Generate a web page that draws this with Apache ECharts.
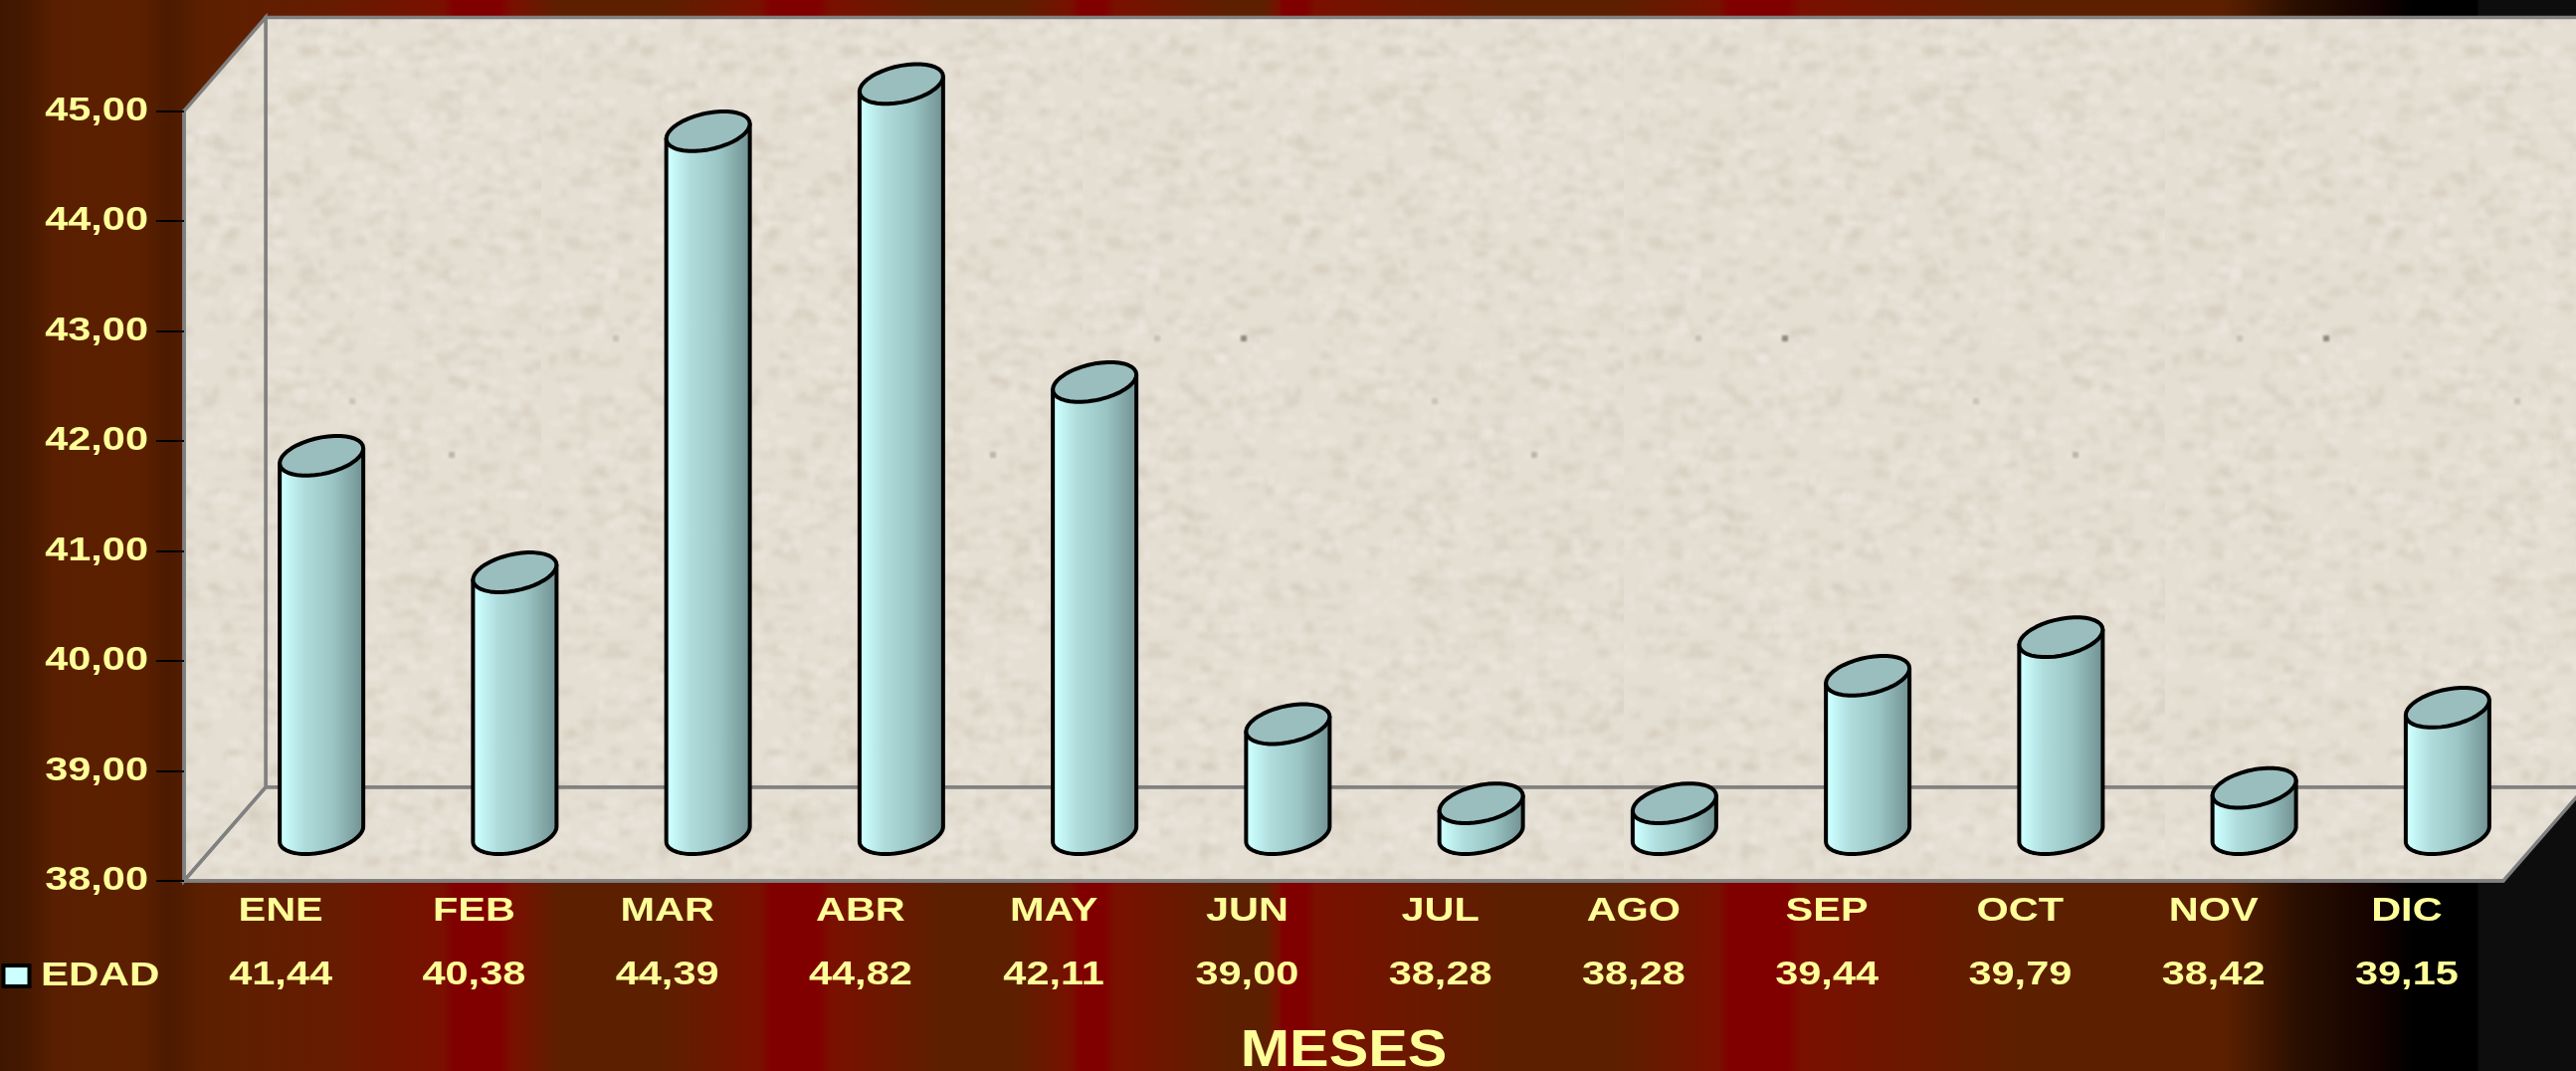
<!DOCTYPE html>
<html>
<head>
<meta charset="utf-8">
<style>
html, body { margin: 0; padding: 0; background: #000; overflow: hidden; }
#main { width: 2589px; height: 1076px; }
</style>
<script src="https://cdn.jsdelivr.net/npm/echarts@6/dist/echarts.min.js"></script>
</head>
<body>
<div id="main"></div>
<script>
var meses = ['ENE', 'FEB', 'MAR', 'ABR', 'MAY', 'JUN', 'JUL', 'AGO', 'SEP', 'OCT', 'NOV', 'DIC'];
var edad = [41.44, 40.38, 44.39, 44.82, 42.11, 39.00, 38.28, 38.28, 39.44, 39.79, 38.42, 39.15];
var yTicks = [38, 39, 40, 41, 42, 43, 44, 45];
var serieNombre = 'EDAD';
var ejeNombre = 'MESES';

var amarillo = '#ffff99';
var gris = '#808080';
var fuente = '"Liberation Sans", Arial, sans-serif';
// el dibujo original esta estirado a lo ancho
var estirar = 1.22;
// fondo del grafico 3D: profundidad de la caja
var fondoX = 82, fondoY = 94;

function coma(v) {
    return v.toFixed(2).replace('.', ',');
}

// textura del papel de las paredes (se repite cada 544px)
function crearTextura() {
    var c = document.createElement('canvas');
    c.width = 544;
    c.height = 900;
    var ctx = c.getContext('2d');
    ctx.fillStyle = '#e5dfd3';
    ctx.fillRect(0, 0, 544, 900);
    var semilla = 7;
    function sig() {
        semilla = (semilla * 16807) % 2147483647;
        return semilla / 2147483647;
    }
    ctx.filter = 'blur(2px)';
    for (var i = 0; i < 4200; i++) {
        var claro = sig() > 0.5;
        ctx.fillStyle = claro ? 'rgba(240,234,228,0.35)' : 'rgba(205,196,180,0.3)';
        ctx.fillRect(sig() * 544, sig() * 900, 3 + sig() * 14, 2 + sig() * 8);
    }
    ctx.filter = 'blur(1px)';
    var puntos = [[162, 340, 0.6], [75, 340, 0.2], [354, 403, 0.2], [454, 457, 0.3]];
    puntos.forEach(function (p) {
        ctx.fillStyle = 'rgba(90,80,70,' + p[2] + ')';
        ctx.fillRect(p[0] - 3, p[1] - 3, 6, 6);
    });
    return c;
}
var textura = { image: crearTextura(), repeat: 'repeat' };

var chart = echarts.init(document.getElementById('main'));

// caja: pared izquierda, pared del fondo y piso
function dibujarCaja(params, api) {
    var banda = api.size([1, 0])[0];
    var abajo = api.coord([0, yTicks[0]]);
    var arriba = api.coord([0, yTicks[yTicks.length - 1]]);
    var x0 = abajo[0] - banda / 2;
    var x1 = x0 + banda * meses.length;
    var y0 = abajo[1], y1 = arriba[1];
    var xf = x0 + fondoX;
    var borde = { fill: textura, stroke: gris, lineWidth: 3.5, lineJoin: 'miter' };
    return {
        type: 'group',
        children: [
            { type: 'polygon', shape: { points: [[xf, y1 - fondoY], [x1 + fondoX, y1 - fondoY], [x1 + fondoX, y0 - fondoY], [xf, y0 - fondoY]] }, style: borde },
            { type: 'polygon', shape: { points: [[x0, y0], [xf, y0 - fondoY], [xf, y1 - fondoY], [x0, y1]] }, style: borde },
            { type: 'polygon', shape: { points: [[x0, y0], [xf, y0 - fondoY], [x1 + fondoX, y0 - fondoY], [x1, y0]] }, style: borde }
        ]
    };
}

// puntos de la elipse inclinada entre dos angulos
function arco(cx, cy, desde, hasta) {
    var pts = [];
    for (var i = 0; i <= 40; i++) {
        var t = desde + (hasta - desde) * i / 40;
        pts.push([cx + Math.cos(t) * 42, cy - Math.cos(t) * 7.5 + Math.sin(t) * 18.5]);
    }
    return pts;
}

// cilindro de cada mes, parado a media profundidad
function dibujarCilindro(params, api) {
    var i = api.value(0);
    var base = api.coord([i, yTicks[0]]);
    var tope = api.coord([i, api.value(1)]);
    var cx = base[0] + fondoX / 2;
    var yb = base[1] - fondoY / 2;
    var yt = tope[1] - fondoY / 2;
    var cuerpo = arco(cx, yb, Math.PI, 0);
    cuerpo.push([cx + 42, yt - 7.5], [cx - 42, yt + 7.5]);
    return {
        type: 'group',
        children: [{
            type: 'polygon',
            shape: { points: cuerpo },
            style: {
                fill: {
                    type: 'linear', x: 0, y: 0, x2: 1, y2: 0,
                    colorStops: [
                        { offset: 0, color: '#c4f8f8' },
                        { offset: 0.06, color: '#ccffff' },
                        { offset: 0.3, color: '#b0dcdc' },
                        { offset: 0.62, color: '#9cc6c6' },
                        { offset: 1, color: '#6f8e8e' }
                    ]
                },
                stroke: '#000',
                lineWidth: 4,
                lineJoin: 'round'
            }
        }, {
            type: 'polygon',
            shape: { points: arco(cx, yt, 0, Math.PI * 2) },
            style: { fill: '#9abebe', stroke: '#000', lineWidth: 4, lineJoin: 'round' }
        }]
    };
}

function texto(x, y, cadena, tam, alinear, escala) {
    return {
        type: 'text',
        x: x,
        y: y,
        scaleX: escala,
        style: {
            text: cadena,
            fill: amarillo,
            font: 'bold ' + tam + 'px ' + fuente,
            align: alinear,
            verticalAlign: 'middle'
        }
    };
}

// tabla de abajo: mes y valor
function dibujarTabla(params, api) {
    var i = api.value(0);
    var p = api.coord([i, yTicks[0]]);
    return {
        type: 'group',
        children: [
            texto(p[0], p[1] + 31, meses[i], 34, 'center', estirar),
            texto(p[0], p[1] + 95, coma(api.value(1)), 34, 'center', estirar)
        ]
    };
}

// rotulos del eje de valores
function dibujarRotuloY(params, api) {
    var v = api.value(1);
    var p = api.coord([0, v]);
    var banda = api.size([1, 0])[0];
    return texto(p[0] - banda / 2 - 36, p[1], coma(v), 34, 'right', estirar);
}

function dibujarTitulo(params, api) {
    var p = api.coord([0, yTicks[0]]);
    var banda = api.size([1, 0])[0];
    return texto(p[0] - banda / 2 + banda * meses.length / 2, p[1] + 172, ejeNombre, 52, 'center', 1.14);
}

var option = {
    animation: false,
    backgroundColor: {
        type: 'linear', x: 0, y: 0, x2: 1, y2: 0,
        colorStops: [
            [0, '#3f1700'], [25, '#451800'], [55, '#5a1f00'], [140, '#5c2000'], [170, '#4c1a00'], [205, '#5c2000'],
            [330, '#661c00'], [445, '#7a1000'], [456, '#800000'], [502, '#800000'], [515, '#7a1000'], [564, '#5c2000'],
            [663, '#5c2000'], [765, '#7a1000'], [775, '#800000'], [821, '#800000'], [835, '#7a1000'], [950, '#5c2000'],
            [1020, '#5c2000'], [1076, '#781000'], [1086, '#800000'], [1110, '#800000'], [1120, '#7a1000'], [1235, '#5c2000'],
            [1270, '#5c2000'], [1285, '#781000'], [1289, '#800000'], [1312, '#800000'], [1322, '#7a1000'], [1520, '#5c2000'],
            [1620, '#5c2000'], [1728, '#781000'], [1738, '#800000'], [1796, '#800000'], [1810, '#7a1000'], [2035, '#5c2000'],
            [2234, '#5c2000'], [2309, '#2a0f00'], [2392, '#120200'], [2425, '#000000'], [2490, '#000000'], [2491, '#0d0d0d'], [2589, '#0d0d0d']
        ].map(function (s) {
            return { offset: s[0] / 2589, color: s[1] };
        })
    },
    grid: { left: 185, right: 73, top: 111.5, bottom: 191 },
    xAxis: {
        type: 'category',
        data: meses,
        z: 3,
        axisLine: { lineStyle: { color: gris, width: 3.5 } },
        axisTick: { show: false },
        axisLabel: { show: false }
    },
    yAxis: {
        type: 'value',
        min: yTicks[0],
        max: yTicks[yTicks.length - 1],
        interval: 1,
        z: 3,
        axisLine: { show: true, lineStyle: { color: gris, width: 3.5 } },
        axisTick: { show: true, length: 28, lineStyle: { color: '#000', width: 2 } },
        axisLabel: { show: false },
        splitLine: { show: false }
    },
    graphic: [{
        type: 'rect',
        shape: { x: 3.5, y: 970, width: 26, height: 21 },
        style: { fill: '#ccffff', stroke: '#000', lineWidth: 4 }
    }, {
        type: 'text',
        x: 41,
        y: 981,
        scaleX: 1.24,
        style: { text: serieNombre, fill: amarillo, font: 'bold 34px ' + fuente, align: 'left', verticalAlign: 'middle' }
    }],
    series: [
        { type: 'custom', name: 'caja', z: 1, silent: true, clip: false, renderItem: dibujarCaja, data: [[0, yTicks[0]]] },
        { type: 'custom', name: serieNombre, z: 4, clip: false, renderItem: dibujarCilindro, encode: { x: 0, y: 1 }, data: edad.map(function (v, i) { return [i, v]; }) },
        { type: 'custom', name: 'tabla', z: 5, silent: true, clip: false, renderItem: dibujarTabla, encode: { x: 0, y: 1 }, data: edad.map(function (v, i) { return [i, v]; }) },
        { type: 'custom', name: 'rotulos', z: 5, silent: true, clip: false, renderItem: dibujarRotuloY, data: yTicks.map(function (v) { return [0, v]; }) },
        { type: 'custom', name: 'titulo', z: 5, silent: true, clip: false, renderItem: dibujarTitulo, data: [[0, yTicks[0]]] }
    ]
};

chart.setOption(option);
</script>
</body>
</html>
